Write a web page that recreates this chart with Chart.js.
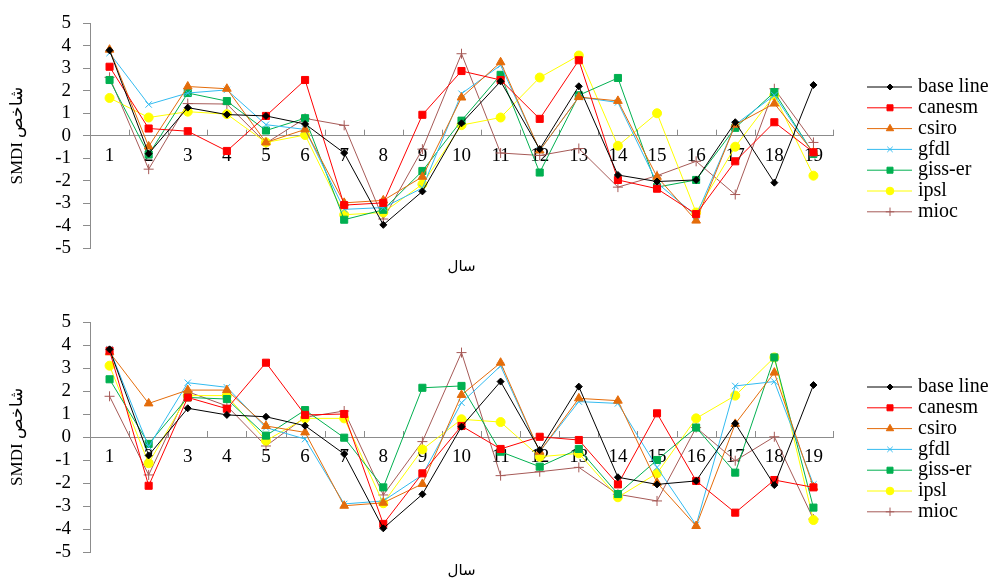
<!DOCTYPE html>
<html>
<head>
<meta charset="utf-8">
<script src="https://cdn.jsdelivr.net/npm/chart.js@4"></script>
<style>
  body { margin: 0; background: #fff; }
  .panel { position: absolute; left: 0; width: 999px; }
</style>
</head>
<body>
<div class="panel" style="top:0;height:285px"><canvas id="chartTop"></canvas></div>
<div class="panel" style="top:285px;height:293px"><canvas id="chartBottom"></canvas></div>
<script>
// سال 1..19
var years = ['1','2','3','4','5','6','7','8','9','10','11','12','13','14','15','16','17','18','19'];
var seriesNames = ['base line', 'canesm', 'csiro', 'gfdl', 'giss-er', 'ipsl', 'mioc'];
var xTitle = 'سال';
var yTitle = 'SMDI شاخص';

// نمودار بالا
var topBaseLine = [3.8, -0.8, 1.25, 0.94, 0.88, 0.52, -0.77, -3.97, -2.48, 0.55, 2.42, -0.6, 2.2, -1.75, -2.04, -1.97, 0.6, -2.09, 2.26];
var topCanesm   = [3.07, 0.32, 0.2, -0.68, 0.88, 2.48, -3.09, -2.99, 0.93, 2.88, 2.48, 0.75, 3.36, -1.97, -2.36, -3.49, -1.14, 0.6, -0.74];
var topCsiro    = [3.83, -0.48, 2.19, 2.09, -0.3, 0.28, -2.99, -2.88, -1.83, 1.7, 3.27, -0.66, 1.72, 1.55, -1.83, -3.78, 0.49, 1.43, -0.74];
var topGfdl     = [3.68, 1.39, 1.9, 2.04, 0.49, 0.28, -3.28, -3.2, -2.33, 1.87, 3.14, -0.66, 1.72, 1.48, -2.1, -3.57, 0.49, 1.8, -0.8];
var topGiss     = [2.48, -0.84, 1.9, 1.54, 0.23, 0.78, -3.74, -3.3, -1.57, 0.67, 2.71, -1.64, 1.8, 2.57, -2.29, -1.97, 0.35, 1.94, -0.81];
var topIpsl     = [1.68, 0.81, 1.07, 0.96, -0.3, 0.03, -3.52, -3.42, -2.16, 0.47, 0.81, 2.59, 3.57, -0.45, 1.0, -3.42, -0.49, 1.8, -1.78];
var topMioc     = [2.6, -1.49, 1.43, 1.41, -0.33, 0.77, 0.46, -3.71, -0.6, 3.65, -0.77, -0.88, -0.57, -2.29, -1.78, -1.14, -2.62, 2.09, -0.3];

// نمودار پایین
var botBaseLine = [3.81, -0.8, 1.25, 0.96, 0.88, 0.49, -0.74, -3.97, -2.49, 0.45, 2.41, -0.57, 2.19, -1.75, -2.06, -1.91, 0.59, -2.09, 2.26];
var botCanesm   = [3.75, -2.12, 1.72, 1.23, 3.23, 0.96, 1.0, -3.78, -1.58, 0.48, -0.52, 0.01, -0.13, -2.06, 1.03, -1.91, -3.29, -1.87, -2.19];
var botCsiro    = [3.68, 1.46, 2.04, 2.04, 0.48, 0.2, -2.99, -2.86, -2.04, 1.83, 3.23, -0.64, 1.68, 1.58, -1.99, -3.87, 0.57, 2.8, -2.19];
var botGfdl     = [3.81, -0.42, 2.36, 2.16, 0.41, -0.09, -2.91, -2.78, -1.65, 1.49, 3.09, -0.64, 1.54, 1.46, -1.32, -3.83, 2.22, 2.41, -2.06];
var botGiss     = [2.51, -0.3, 1.72, 1.65, 0.06, 1.17, -0.03, -2.19, 2.14, 2.22, -0.64, -1.29, -0.52, -2.48, -1.0, 0.41, -1.55, 3.46, -3.07];
var botIpsl     = [3.1, -1.14, 1.8, 1.8, -0.16, 0.81, 0.81, -2.88, -0.54, 0.77, 0.65, -0.86, -0.71, -2.62, -1.58, 0.81, 1.8, 3.46, -3.61];
var botMioc     = [1.77, -1.65, 1.97, 1.35, -0.39, 0.86, 1.13, -2.52, -0.2, 3.67, -1.68, -1.51, -1.32, -2.49, -2.78, 0.41, -1.03, 0.01, -3.57];

var yTicks = [-5, 5, 1]; // min, max, step

var colors = ['#000000', '#FF0000', '#E46C0A', '#33BBF0', '#00B050', '#FFFF00', '#A65A57'];
var styles = ['rectRot', 'rect', 'triangle', 'crossRot', 'rect', 'circle', 'cross'];
var radii  = [3.5, 5, 5, 4.5, 5, 4.5, 5];

var serif = "'Liberation Serif', 'Times New Roman', serif";

function buildDatasets(list) {
  return list.map(function(values, i) {
    return {
      label: seriesNames[i],
      data: values,
      borderColor: colors[i],
      backgroundColor: colors[i],
      pointBackgroundColor: colors[i],
      pointBorderColor: colors[i],
      pointStyle: styles[i],
      pointRadius: radii[i],
      pointBorderWidth: 1,
      borderWidth: 1,
      tension: 0
    };
  });
}

// ticks above the zero line, between categories
var xTickMarks = {
  id: 'xTickMarks',
  beforeDatasetsDraw: function(chart) {
    var ctx = chart.ctx, area = chart.chartArea;
    var y0 = chart.scales.y.getPixelForValue(0);
    var n = chart.data.labels.length;
    var w = (area.right - area.left) / n;
    ctx.save();
    ctx.strokeStyle = '#8c8c8c';
    ctx.lineWidth = 1;
    ctx.beginPath();
    for (var i = 0; i <= n; i++) {
      var x = Math.round(area.left + i * w) + 0.5;
      ctx.moveTo(x, y0 - 6);
      ctx.lineTo(x, y0);
    }
    ctx.stroke();
    ctx.restore();
  }
};

// legend on the right (line + marker + name) and the x title under the plot
var sideLegend = {
  id: 'sideLegend',
  afterDraw: function(chart, args, opts) {
    var ctx = chart.ctx, area = chart.chartArea;
    chart.data.datasets.forEach(function(ds, i) {
      var y = opts.top + i * opts.step;
      ctx.save();
      ctx.strokeStyle = ds.borderColor;
      ctx.fillStyle = ds.borderColor;
      ctx.lineWidth = 1;
      ctx.beginPath();
      ctx.moveTo(867, y);
      ctx.lineTo(912, y);
      ctx.stroke();
      Chart.helpers.drawPoint(ctx, {
        pointStyle: ds.pointStyle,
        radius: ds.pointRadius * 0.85,
        rotation: 0,
        borderWidth: 1
      }, 890, y);
      ctx.fillStyle = '#000';
      ctx.font = '20px ' + serif;
      ctx.textAlign = 'left';
      ctx.textBaseline = 'middle';
      ctx.fillText(ds.label, 918, y);
      ctx.restore();
    });
    ctx.save();
    ctx.fillStyle = '#000';
    ctx.font = '15px DejaVu Sans';
    ctx.textAlign = 'center';
    ctx.textBaseline = 'middle';
    ctx.fillText(xTitle, (area.left + area.right) / 2, area.bottom + opts.titleGap);
    ctx.restore();
  }
};

function makeChart(id, list, padTop, padBottom, legendTop) {
  return new Chart(document.getElementById(id), {
    type: 'line',
    data: { labels: years, datasets: buildDatasets(list) },
    plugins: [xTickMarks, sideLegend],
    options: {
      responsive: true,
      maintainAspectRatio: false,
      animation: false,
      layout: { padding: { top: padTop, bottom: padBottom, left: 0, right: 166 } },
      plugins: {
        legend: { display: false },
        tooltip: { enabled: false },
        sideLegend: { top: legendTop, step: 20.8, titleGap: 19 }
      },
      scales: {
        x: {
          type: 'category',
          position: { y: 0 },
          offset: true,
          grid: { display: true, drawOnChartArea: false, drawTicks: false, color: '#8c8c8c' },
          border: { display: true, color: '#8c8c8c', width: 1 },
          ticks: { color: '#000', font: { family: serif, size: 19 }, padding: 9, maxRotation: 0, autoSkip: false }
        },
        y: {
          min: yTicks[0],
          max: yTicks[1],
          afterFit: function(scale) { scale.width = 90; },
          grid: { display: true, drawOnChartArea: false, drawTicks: true, tickLength: 7, color: '#8c8c8c' },
          border: { display: true, color: '#8c8c8c', width: 1 },
          ticks: { stepSize: yTicks[2], autoSkip: false, color: '#000', font: { family: serif, size: 19 }, padding: 12 },
          title: { display: true, text: yTitle, color: '#000', font: { family: serif, size: 17 }, padding: { top: 7, bottom: 0 } }
        }
      }
    }
  });
}

makeChart('chartTop', [topBaseLine, topCanesm, topCsiro, topGfdl, topGiss, topIpsl, topMioc], 18, 37, 87);
makeChart('chartBottom', [botBaseLine, botCanesm, botCsiro, botGfdl, botGiss, botIpsl, botMioc], 37, 26, 102);
</script>
</body>
</html>
